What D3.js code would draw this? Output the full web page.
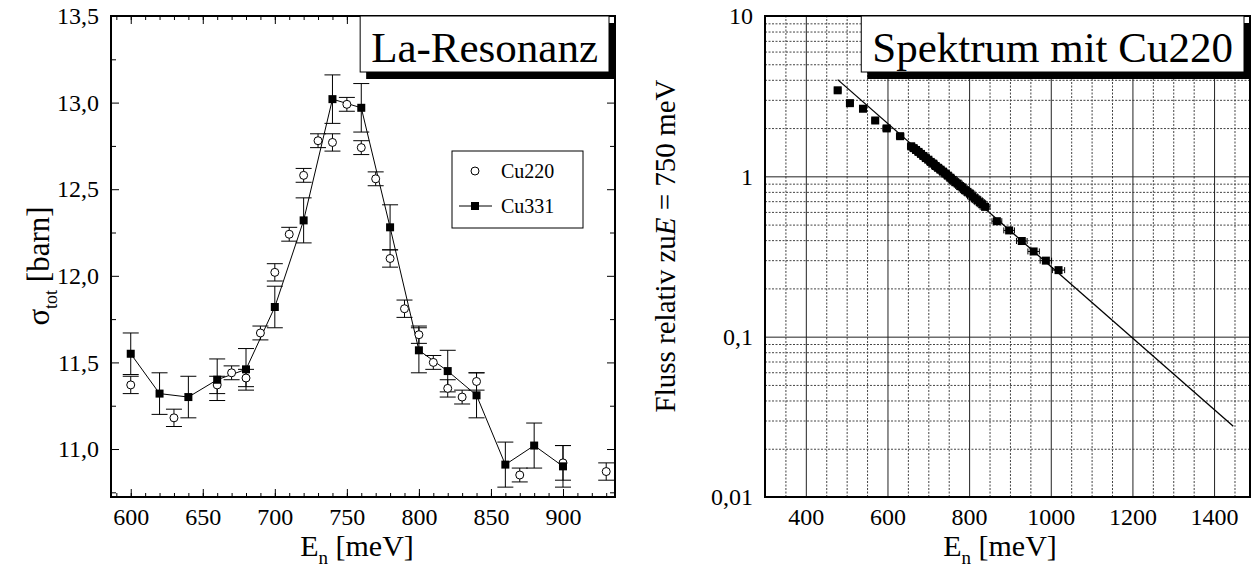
<!DOCTYPE html>
<html>
<head>
<meta charset="utf-8">
<script src="https://cdn.jsdelivr.net/npm/d3@7"></script>
<style>
body { margin: 0; background: #fff; }
svg, svg text { font-family: "Liberation Serif", "Times New Roman", serif; }
</style>
</head>
<body>
<svg width="1251" height="570"></svg>
<script>
// --- La-Resonanz, Cu331 (squares, line)
var cu331E = [600, 620, 640, 660, 680, 700, 720, 740, 760, 780, 800, 820, 840, 860, 880, 900];
var cu331Sigma = [11.55, 11.32, 11.30, 11.40, 11.46, 11.82, 12.32, 13.02, 12.97, 12.28, 11.57, 11.45, 11.31, 10.91, 11.02, 10.90];
var cu331Err = [0.12, 0.12, 0.12, 0.12, 0.12, 0.12, 0.13, 0.14, 0.14, 0.13, 0.13, 0.12, 0.13, 0.13, 0.13, 0.12];

// --- La-Resonanz, Cu220 (open circles)
var cu220E = [600, 630, 660, 670, 680, 690, 700, 710, 720, 730, 740, 750, 760, 770, 780, 790, 800, 810, 820, 830, 840, 870, 900, 930];
var cu220Sigma = [11.37, 11.18, 11.37, 11.44, 11.41, 11.67, 12.02, 12.24, 12.58, 12.78, 12.77, 12.99, 12.74, 12.56, 12.10, 11.81, 11.66, 11.50, 11.35, 11.30, 11.39, 10.85, 10.92, 10.87];
var cu220Err = [0.05, 0.05, 0.05, 0.04, 0.05, 0.04, 0.05, 0.04, 0.04, 0.04, 0.05, 0.04, 0.04, 0.04, 0.05, 0.05, 0.05, 0.04, 0.05, 0.04, 0.05, 0.04, 0.10, 0.05];

var leftXTicks = [600, 650, 700, 750, 800, 850, 900];
var leftYTicks = [11.0, 11.5, 12.0, 12.5, 13.0, 13.5];

// --- Spektrum mit Cu220
var fluxE = [478, 508, 540, 570, 598, 631, 658, 664, 670, 676, 682, 688, 694, 700, 706, 712, 718, 724, 730, 736,
    742, 748, 754, 760, 766, 772, 778, 784, 790, 796, 802, 808, 814, 820, 826, 832, 839,
    868, 898, 929, 958, 988, 1019];
var fluxRel = [3.44, 2.86, 2.64, 2.23, 1.99, 1.78, 1.54, 1.50, 1.46, 1.42, 1.38, 1.34, 1.30, 1.27, 1.23, 1.20, 1.16, 1.13, 1.10, 1.07,
    1.04, 1.01, 0.98, 0.95, 0.92, 0.90, 0.87, 0.85, 0.82, 0.80, 0.78, 0.75, 0.73, 0.71, 0.69, 0.67, 0.645,
    0.525, 0.46, 0.395, 0.34, 0.298, 0.26];
var fluxErrE = [8, 8, 8, 8, 9, 9, 9, 9, 9, 9, 9, 9, 9, 9, 10, 10, 10, 10, 10, 10,
    10, 10, 10, 11, 11, 11, 11, 11, 11, 11, 12, 12, 12, 12, 12, 12, 12,
    12, 13, 13, 14, 14, 15];
var fitE = [478, 1447];
var fitFlux = [4.01, 0.0276];

var rightXTicks = [400, 600, 800, 1000, 1200, 1400];
var rightYTicks = [0.01, 0.1, 1, 10];

var svg = d3.select("svg").attr("font-family", "Liberation Serif");
var font = "Liberation Serif";

function comma(d) {
    return String(d).replace(".", ",");
}

function styleAxis(g, size) {
    g.attr("font-family", font).attr("font-size", size);
    g.select(".domain").remove();
    g.selectAll("text").attr("fill", "#000");
    g.selectAll("line").attr("stroke", "#000");
}

// ================= left chart =================
var xL = d3.scaleLinear().domain([586.3, 936.1]).range([111, 615]);
var yL = d3.scaleLinear().domain([10.723, 13.5]).range([497, 16]);

var left = svg.append("g");

left.append("g").attr("transform", "translate(0,497)")
    .call(d3.axisBottom(xL).tickValues(leftXTicks).tickSize(-8).tickPadding(11).tickFormat(d3.format("d")))
    .call(styleAxis, 24);
left.append("g").attr("transform", "translate(0,497)")
    .call(d3.axisBottom(xL).tickValues(d3.range(590, 936, 10)).tickSize(-4).tickFormat(""))
    .call(styleAxis, 24);
left.append("g").attr("transform", "translate(0,16)")
    .call(d3.axisTop(xL).tickValues(leftXTicks).tickSize(-8).tickFormat(""))
    .call(styleAxis, 24);
left.append("g").attr("transform", "translate(0,16)")
    .call(d3.axisTop(xL).tickValues(d3.range(590, 936, 10)).tickSize(-4).tickFormat(""))
    .call(styleAxis, 24);
left.append("g").attr("transform", "translate(111,0)")
    .call(d3.axisLeft(yL).tickValues(leftYTicks).tickSize(-8).tickPadding(12)
        .tickFormat(function(d) { return d3.format(".1f")(d).replace(".", ","); }))
    .call(styleAxis, 24);
left.append("g").attr("transform", "translate(111,0)")
    .call(d3.axisLeft(yL).tickValues([10.75, 11.25, 11.75, 12.25, 12.75, 13.25]).tickSize(-5).tickFormat(""))
    .call(styleAxis, 24);
left.append("g").attr("transform", "translate(615,0)")
    .call(d3.axisRight(yL).tickValues(leftYTicks).tickSize(-8).tickFormat(""))
    .call(styleAxis, 24);
left.append("g").attr("transform", "translate(615,0)")
    .call(d3.axisRight(yL).tickValues([10.75, 11.25, 11.75, 12.25, 12.75, 13.25]).tickSize(-5).tickFormat(""))
    .call(styleAxis, 24);

left.append("rect")
    .attr("x", 111).attr("y", 16).attr("width", 504).attr("height", 481)
    .attr("fill", "none").attr("stroke", "#000").attr("stroke-width", 2);

// Cu331 line
var line331 = d3.line()
    .x(function(d, i) { return xL(cu331E[i]); })
    .y(function(d) { return yL(d); });
left.append("path")
    .attr("d", line331(cu331Sigma))
    .attr("fill", "none").attr("stroke", "#000").attr("stroke-width", 1);

function errorBars(g, xs, ys, es) {
    var bars = g.selectAll(null).data(ys).enter().append("g");
    bars.append("line")
        .attr("x1", function(d, i) { return xL(xs[i]); })
        .attr("x2", function(d, i) { return xL(xs[i]); })
        .attr("y1", function(d, i) { return yL(d - es[i]); })
        .attr("y2", function(d, i) { return yL(d + es[i]); });
    bars.append("line")
        .attr("x1", function(d, i) { return xL(xs[i]) - 8; })
        .attr("x2", function(d, i) { return xL(xs[i]) + 8; })
        .attr("y1", function(d, i) { return yL(d - es[i]); })
        .attr("y2", function(d, i) { return yL(d - es[i]); });
    bars.append("line")
        .attr("x1", function(d, i) { return xL(xs[i]) - 8; })
        .attr("x2", function(d, i) { return xL(xs[i]) + 8; })
        .attr("y1", function(d, i) { return yL(d + es[i]); })
        .attr("y2", function(d, i) { return yL(d + es[i]); });
    bars.selectAll("line").attr("stroke", "#000").attr("stroke-width", 1);
}

errorBars(left.append("g"), cu220E, cu220Sigma, cu220Err);
errorBars(left.append("g"), cu331E, cu331Sigma, cu331Err);

left.append("g").selectAll("circle")
    .data(cu220Sigma).enter().append("circle")
    .attr("cx", function(d, i) { return xL(cu220E[i]); })
    .attr("cy", function(d) { return yL(d); })
    .attr("r", 4)
    .attr("fill", "#fff").attr("stroke", "#000").attr("stroke-width", 1);

left.append("g").selectAll("rect")
    .data(cu331Sigma).enter().append("rect")
    .attr("x", function(d, i) { return xL(cu331E[i]) - 4; })
    .attr("y", function(d) { return yL(d) - 4; })
    .attr("width", 8).attr("height", 8)
    .attr("fill", "#000");

// legend
var leg = left.append("g");
leg.append("rect").attr("x", 452).attr("y", 151).attr("width", 131).attr("height", 77)
    .attr("fill", "#fff").attr("stroke", "#000").attr("stroke-width", 1);
leg.append("circle").attr("cx", 475).attr("cy", 171).attr("r", 4)
    .attr("fill", "#fff").attr("stroke", "#000");
leg.append("line").attr("x1", 459).attr("x2", 492).attr("y1", 206).attr("y2", 206).attr("stroke", "#000");
leg.append("rect").attr("x", 471).attr("y", 202).attr("width", 8).attr("height", 8).attr("fill", "#000");
leg.append("text").attr("x", 501).attr("y", 178).attr("font-size", 20).text("Cu220");
leg.append("text").attr("x", 501).attr("y", 213).attr("font-size", 20).text("Cu331");

// axis titles
var xtL = left.append("text").attr("x", 357).attr("y", 556).attr("font-size", 30).attr("text-anchor", "middle");
xtL.append("tspan").text("E");
xtL.append("tspan").attr("font-size", 19).attr("dy", 8).text("n");
xtL.append("tspan").attr("dy", -8).text(" [meV]");

var ytL = left.append("text").attr("transform", "translate(49,266) rotate(-90)")
    .attr("font-size", 31).attr("text-anchor", "middle");
ytL.append("tspan").text("σ");
ytL.append("tspan").attr("font-size", 18).attr("dy", 8).text("tot");
ytL.append("tspan").attr("dy", -8).text(" [barn]");

// ================= right chart =================
var xR = d3.scaleLinear().domain([300, 1488]).range([765, 1250]);
var yR = d3.scaleLog().domain([0.01, 10]).range([497, 16]);

var right = svg.append("g");

var minorE = d3.range(350, 1488, 50).filter(function(d) { return d % 200 !== 0; });
var minorF = [];
[0.01, 0.1, 1].forEach(function(p) {
    d3.range(2, 10).forEach(function(k) { minorF.push(+(p * k).toPrecision(2)); });
});

// grid
right.append("g").attr("transform", "translate(0,497)")
    .call(d3.axisBottom(xR).tickValues(minorE).tickSize(-481).tickFormat(""))
    .call(styleAxis, 24)
    .selectAll("line").attr("stroke", "#444").attr("stroke-dasharray", "2,1.5");
right.append("g").attr("transform", "translate(765,0)")
    .call(d3.axisLeft(yR).tickValues(minorF).tickSize(-485).tickFormat(""))
    .call(styleAxis, 24)
    .selectAll("line").attr("stroke", "#444").attr("stroke-dasharray", "2,1.5");
right.append("g").attr("transform", "translate(0,497)")
    .call(d3.axisBottom(xR).tickValues(rightXTicks).tickSize(-481).tickPadding(11).tickFormat(d3.format("d")))
    .call(styleAxis, 24)
    .selectAll("line").attr("stroke", "#222");
right.append("g").attr("transform", "translate(765,0)")
    .call(d3.axisLeft(yR).tickValues(rightYTicks).tickSize(-485).tickPadding(12).tickFormat(comma))
    .call(styleAxis, 24)
    .selectAll("line").attr("stroke", "#222");

right.append("rect")
    .attr("x", 765).attr("y", 16).attr("width", 485).attr("height", 481)
    .attr("fill", "none").attr("stroke", "#000").attr("stroke-width", 2);

// fit line
var fitLine = d3.line()
    .x(function(d, i) { return xR(fitE[i]); })
    .y(function(d) { return yR(d); });
right.append("path")
    .attr("d", fitLine(fitFlux))
    .attr("fill", "none").attr("stroke", "#000").attr("stroke-width", 1.3);

// horizontal error bars
var hb = right.append("g").selectAll("g").data(fluxRel).enter().append("g");
hb.append("line")
    .attr("x1", function(d, i) { return xR(fluxE[i] - fluxErrE[i]); })
    .attr("x2", function(d, i) { return xR(fluxE[i] + fluxErrE[i]); })
    .attr("y1", function(d) { return yR(d); })
    .attr("y2", function(d) { return yR(d); });
hb.append("line")
    .attr("x1", function(d, i) { return xR(fluxE[i] - fluxErrE[i]); })
    .attr("x2", function(d, i) { return xR(fluxE[i] - fluxErrE[i]); })
    .attr("y1", function(d) { return yR(d) - 3; })
    .attr("y2", function(d) { return yR(d) + 3; });
hb.append("line")
    .attr("x1", function(d, i) { return xR(fluxE[i] + fluxErrE[i]); })
    .attr("x2", function(d, i) { return xR(fluxE[i] + fluxErrE[i]); })
    .attr("y1", function(d) { return yR(d) - 3; })
    .attr("y2", function(d) { return yR(d) + 3; });
hb.selectAll("line").attr("stroke", "#000").attr("stroke-width", 1);

right.append("g").selectAll("rect")
    .data(fluxRel).enter().append("rect")
    .attr("x", function(d, i) { return xR(fluxE[i]) - 4; })
    .attr("y", function(d) { return yR(d) - 4; })
    .attr("width", 8).attr("height", 8)
    .attr("fill", "#000");

var xtR = right.append("text").attr("x", 1000).attr("y", 556).attr("font-size", 30).attr("text-anchor", "middle");
xtR.append("tspan").text("E");
xtR.append("tspan").attr("font-size", 19).attr("dy", 8).text("n");
xtR.append("tspan").attr("dy", -8).text(" [meV]");

var ytR = right.append("text").attr("transform", "translate(675,246) rotate(-90)")
    .attr("font-size", 29).attr("text-anchor", "middle");
ytR.append("tspan").text("Fluss relativ zu");
ytR.append("tspan").attr("font-style", "italic").text("E");
ytR.append("tspan").text(" = 750 meV");

// ================= title boxes =================
function titleBox(xRight, label) {
    var g = svg.append("g");
    var t = g.append("text").attr("font-size", 43).attr("y", 62).text(label);
    var w = t.node().getComputedTextLength() + 22;
    var x0 = xRight - 6 - w;
    g.insert("rect", "text").attr("x", x0 + 6).attr("y", 23).attr("width", w).attr("height", 56).attr("fill", "#000");
    g.insert("rect", "text").attr("x", x0).attr("y", 16).attr("width", w).attr("height", 56)
        .attr("fill", "#fff").attr("stroke", "#000").attr("stroke-width", 1);
    t.attr("x", x0 + 11);
}
titleBox(615, "La-Resonanz");
titleBox(1250, "Spektrum mit Cu220");
</script>
</body>
</html>
